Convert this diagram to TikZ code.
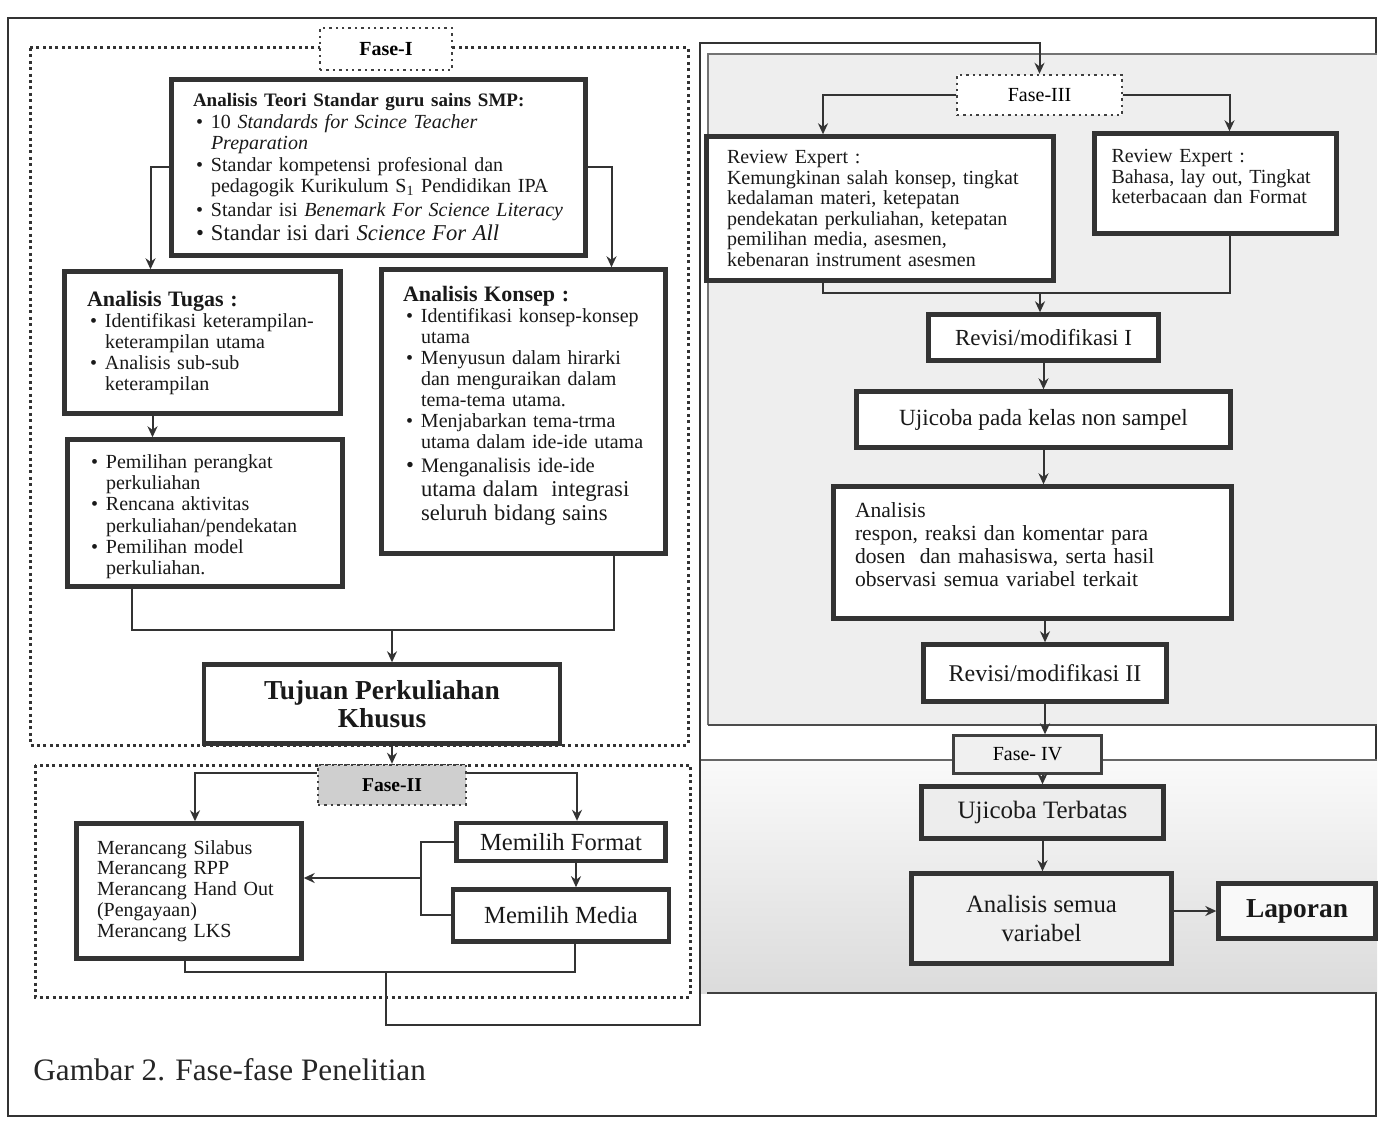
\documentclass[tikz,border=0pt]{standalone}
\usepackage{fontspec}
\setmainfont{Liberation Serif}
\usetikzlibrary{positioning,arrows.meta,calc}

% bullet line with hanging indent
\newcommand{\bitem}{\par\hangindent=9pt\hangafter=1\noindent\hbox to 9pt{\hskip1.5pt\textbullet\hfil}}

\begin{document}
\begin{tikzpicture}[
  x=0.5pt, y=-0.5pt,
  box/.style={rectangle, draw=black!80, line width=2.2pt, fill=white, inner sep=0pt, align=left, text=black!90},
  cbox/.style={box, align=center},
  fase/.style={rectangle, draw=black!75, line width=1.2pt, dotted, fill=white, inner sep=0pt, align=center},
  region/.style={draw=black!80, line width=1.5pt, dash pattern=on 1.5pt off 1.7pt},
  arrow/.style={-{Stealth[length=5.5pt,width=5pt]}, line width=1pt, draw=black!80},
  line/.style={line width=1pt, draw=black!80}
]

\useasboundingbox (0,0) rectangle (1385,1122);
\fill[white] (0,0) rectangle (1385,1122);

% outer frame and grey panels
\draw[line width=0.8pt, black!80] (8,18) rectangle (1376,1116);
\fill[gray!13] (708,54) rectangle (1377,725);
\draw[line width=0.8pt, black!55] (708,725) -- (708,54) -- (1377,54);
\draw[line width=1pt, black!70] (708,725) -- (1377,725);
\shade[top color=gray!4, bottom color=gray!28] (700,760) rectangle (1377,993);
\draw[line width=0.8pt, black!60] (700,760) -- (1377,760);
\draw[line width=1pt, black!75] (707,993) -- (1377,993);

% dotted regions of Fase-I and Fase-II
\draw[region] (30,48) rectangle (688,745);
\draw[region] (35,765) rectangle (690,997);

% Fase-I
\node[fase, font=\fontsize{10}{12}\selectfont\bfseries, minimum width=66pt, minimum height=21pt] (fase1) at (386,49) {Fase-I};

\node[box, font=\fontsize{10}{10.75}\selectfont, minimum width=207pt, minimum height=88pt, text width=185.5pt] (teori) at (378.5,167.5) {
  {\fontsize{9.5}{10.75}\selectfont\bfseries Analisis Teori Standar guru sains SMP:\par}
  \bitem 10 \textit{Standards for Scince Teacher}\newline\textit{Preparation}
  \bitem Standar kompetensi profesional dan\newline pedagogik Kurikulum S\textsubscript{1} Pendidikan IPA
  \bitem Standar isi \textit{Benemark For Science Literacy}
  {\fontsize{11.3}{12}\selectfont\bitem Standar isi dari \textit{Science For All}\par}
};

\node[box, font=\fontsize{10}{10.5}\selectfont, minimum width=138pt, minimum height=71pt, text width=115.5pt] (tugas) at (202.5,342.5) {
  {\fontsize{11}{12}\selectfont\bfseries Analisis Tugas :\par}
  \bitem Identifikasi keterampilan-\newline keterampilan utama
  \bitem Analisis sub-sub\newline keterampilan\par
};

\node[box, font=\fontsize{10}{10.6}\selectfont, minimum width=137.5pt, minimum height=73.5pt, text width=117pt] (pilih) at (205,513) {
  \bitem Pemilihan perangkat\newline perkuliahan
  \bitem Rencana aktivitas\newline perkuliahan/pendekatan
  \bitem Pemilihan model\newline perkuliahan.\par
};

\node[box, font=\fontsize{10}{10.5}\selectfont, minimum width=142pt, minimum height=142pt, text width=120.5pt] (konsep) at (523.5,411.5) {
  {\fontsize{11}{12}\selectfont\bfseries Analisis Konsep :\par}
  \bitem Identifikasi konsep-konsep\newline utama
  \bitem Menyusun dalam hirarki\newline dan menguraikan dalam\newline tema-tema utama.
  \bitem Menjabarkan tema-trma\newline utama dalam ide-ide utama\par
  {\fontsize{11.3}{12}\selectfont\bitem {\fontsize{10.3}{11}\selectfont Menganalisis ide-ide}\newline utama dalam\ \ integrasi\newline seluruh bidang sains\par}
  \vspace{6pt}
};

\node[cbox, font=\fontsize{13.7}{14}\selectfont\bfseries, minimum width=178pt, minimum height=39.5pt] (tujuan) at (382,704) {Tujuan Perkuliahan\\Khusus};

% arrows of Fase-I
\draw[arrow] (teori.west) -| ($(tugas.north)+(-52,0)$);
\draw[arrow] (teori.east) -| ($(konsep.north)+(88,0)$);
\draw[arrow] ($(tugas.south)+(-50,0)$) coordinate (t1) -- (t1 |- pilih.north);
\coordinate (join1) at (392,630);
\draw[line] ($(pilih.south)+(-73,0)$) |- (join1) -| ($(konsep.south)+(90,0)$);
\draw[arrow] (join1) -- (join1 |- tujuan.north);

% Fase-II
\node[fase, fill=gray!38, font=\fontsize{9.8}{12}\selectfont\bfseries, minimum width=74pt, minimum height=20pt] (fase2) at (392,785) {Fase-II};
\draw[arrow] (fase2.north |- tujuan.south) -- (fase2.north);

\node[box, font=\fontsize{10}{10.4}\selectfont, minimum width=112.5pt, minimum height=67.5pt, text width=92pt] (merancang) at (189,891) {
  Merancang Silabus\newline
  Merancang RPP\newline
  Merancang Hand Out\newline
  (Pengayaan)\newline
  Merancang LKS
};
\node[cbox, font=\fontsize{12.3}{14}\selectfont, minimum width=104.5pt, minimum height=19pt] (format) at (561,842) {Memilih Format};
\node[cbox, font=\fontsize{12.3}{14}\selectfont, minimum width=108pt, minimum height=26pt, below=12pt of format] (media) {Memilih Media};

\draw[arrow] ($(fase2.west)+(0,-12)$) -| ($(merancang.north)+(6,0)$);
\draw[arrow] ($(fase2.east)+(0,-12)$) -| ($(format.north)+(16,0)$);
\draw[arrow] ($(format.south)+(15,0)$) coordinate (f1) -- (f1 |- media.north);
\draw[line] (format.west) -- ++(-33,0) coordinate (brk) |- (media.west);
\draw[arrow] (brk |- 0,878) -- (merancang.east |- 0,878);

% link from Fase-II to Fase-III
\coordinate (join2) at (386,972);
\coordinate (low2) at (386,1025);
\coordinate (top3) at (700,43);
\draw[line] ($(merancang.south)+(-4,0)$) |- (join2) -| ($(media.south)+(14,0)$);

% Fase-III
\node[fase, font=\fontsize{10}{12}\selectfont, minimum width=82.5pt, minimum height=20pt] (fase3) at (1039.5,95) {Fase-III};
\draw[arrow] (join2) -- (low2) -| (top3) -| (fase3.north);

\node[box, font=\fontsize{10}{10.3}\selectfont, minimum width=173.5pt, minimum height=72pt, text width=153pt] (rev1) at (880,208.5) {
  Review Expert :\newline
  Kemungkinan salah konsep, tingkat\newline
  kedalaman materi, ketepatan\newline
  pendekatan perkuliahan, ketepatan\newline
  pemilihan media, asesmen,\newline
  kebenaran instrument asesmen
};
\node[box, font=\fontsize{10}{10.3}\selectfont, minimum width=121pt, minimum height=50pt, text width=104pt] (rev2) at (1215.5,183.5) {
  Review Expert :\newline
  Bahasa, lay out, Tingkat\newline
  keterbacaan dan Format\par
  \vspace{7pt}
};
\draw[arrow] (fase3.west) -| ($(rev1.north)+(-57,0)$);
\draw[arrow] (fase3.east) -| ($(rev2.north)+(14,0)$);

\node[cbox, font=\fontsize{11.5}{14}\selectfont, minimum width=115pt, minimum height=23pt] (revI) at (1043.5,337.5) {Revisi/modifikasi I};
\node[cbox, font=\fontsize{11.6}{14}\selectfont, minimum width=187pt, minimum height=28pt, below=13.3pt of revI] (uji) {Ujicoba pada kelas non sampel};
\node[box, font=\fontsize{10.8}{11.5}\selectfont, minimum width=199pt, minimum height=66pt, text width=177.5pt] (anal) at (1032.5,552.5) {
  Analisis\newline
  respon, reaksi dan komentar para\newline
  dosen\ \ dan mahasiswa, serta hasil\newline
  observasi semua variabel terkait\par
  \vspace{8pt}
};
\node[cbox, font=\fontsize{12}{14}\selectfont, minimum width=121.5pt, minimum height=28.5pt] (revII) at (1045,673) {Revisi/modifikasi II};

\coordinate (join3) at (1040,293);
\draw[line] ($(rev1.south)+(-57,0)$) |- (join3) -| ($(rev2.south)+(14,0)$);
\draw[arrow] (join3) -- (join3 |- revI.north);
\draw[arrow] (revI.south) -- (revI.south |- uji.north);
\draw[arrow] (uji.south) -- (uji.south |- anal.north);
\draw[arrow] (revII.north |- anal.south) -- (revII.north);

% Fase-IV
\node[rectangle, draw=black!75, line width=1.2pt, fill=gray!12, inner sep=0pt, font=\fontsize{10}{12}\selectfont, minimum width=74pt, minimum height=19pt] (fase4) at (1027.5,754.5) {Fase- IV};
\node[cbox, fill=gray!14, font=\fontsize{12.5}{14}\selectfont, minimum width=121pt, minimum height=26pt] (ujiT) at (1042.5,812.5) {Ujicoba Terbatas};
\node[cbox, fill=gray!12, font=\fontsize{12.4}{14.5}\selectfont, minimum width=130pt, minimum height=45pt] (analS) at (1041.5,918.5) {Analisis semua\\variabel};
\node[cbox, fill=gray!5, font=\fontsize{13.7}{15}\selectfont\bfseries, minimum width=78.5pt, minimum height=27.5pt, right=21.3pt of analS, yshift=3.75pt] (lapor) {Laporan};

\draw[arrow] (revII.south) -- (revII.south |- fase4.north);
\draw[arrow] (ujiT.north |- fase4.south) -- (ujiT.north);
\draw[arrow] (ujiT.south) -- (ujiT.south |- analS.north);
\draw[arrow] (analS.east |- lapor.west) -- (lapor.west);

% caption
\node[anchor=base west, inner sep=0pt, font=\fontsize{15.6}{18}\selectfont, text=black!85] (caption) at (33,1080) {Gambar 2. Fase-fase Penelitian};

\end{tikzpicture}
\end{document}
